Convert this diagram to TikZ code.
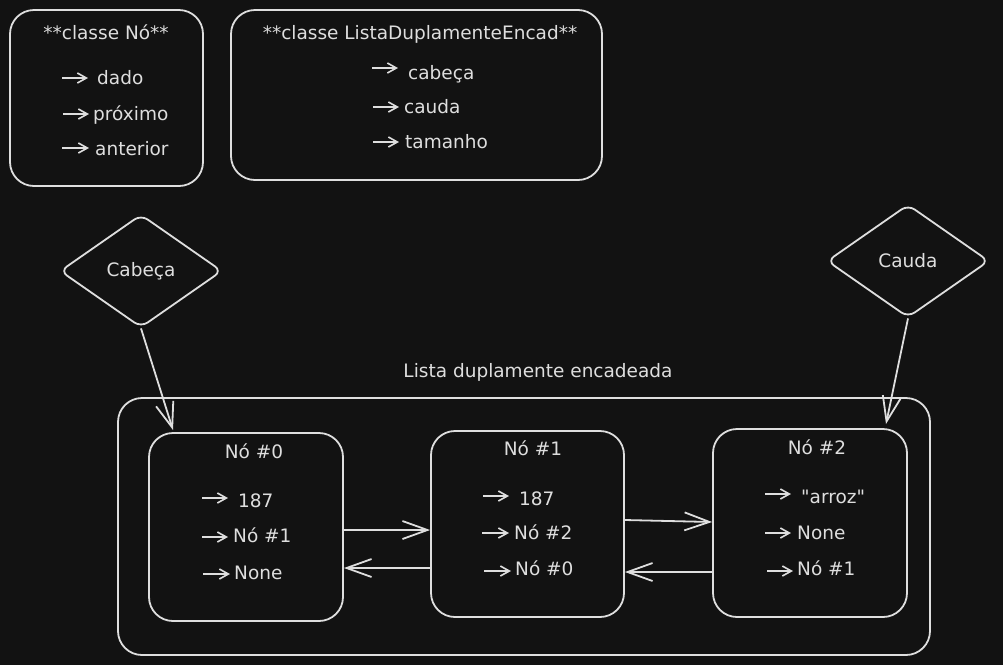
\documentclass[tikz,border=0pt]{standalone}
\usepackage{fontspec}
\setmainfont{DejaVu Sans}[Ligatures=TeXOff]
\usetikzlibrary{arrows.meta,shapes.geometric}
\definecolor{bg}{HTML}{121212}
\definecolor{fg}{HTML}{DEDEDE}
\newcommand\fieldrow[7]{%
  \coordinate (#1s) at (#2,#4);
  \coordinate (#1e) at (#3,#4);
  \node[txt, anchor=west] (#1) at (#5,#6+5) {#7};
  \draw[sarr] (#1s) -- (#1e);
}
\begin{document}
\begin{tikzpicture}[x=1pt,y=-1pt,
  box/.style={draw=fg, line width=1.8pt, rounded corners=24pt, inner sep=0pt},
  txt/.style={text=fg, font=\fontsize{18.5}{22}\selectfont, inner sep=0pt, text height=0.75em, text depth=0.2em},
  conn/.style={draw=fg, line width=1.8pt, -{Straight Barb[length=25pt,width=18pt,line width=1.8pt]}},
  sarr/.style={draw=fg, line width=1.6pt, -{Straight Barb[length=9pt,width=10pt]}},
  dia/.style={diamond, draw=fg, line width=1.8pt, rounded corners=8pt, aspect=1.43,
    minimum width=162pt, minimum height=113pt, inner sep=0pt, text=fg, font=\fontsize{18.5}{22}\selectfont}]
\fill[bg] (0,0) rectangle (1003,665);
\useasboundingbox (0,0) rectangle (1003,665);

% class boxes
\node[box, minimum width=193pt, minimum height=176pt] (cno) at (106.5,98) {};
\node[box, minimum width=371pt, minimum height=170pt] (clista) at (416.5,95) {};
\node[txt] (tno) at (106,37) {**classe Nó**};
\node[txt] (tlista) at (420,37) {**classe ListaDuplamenteEncad**};
\fieldrow{f1}{62}{88}{78}{97}{77}{dado}
\fieldrow{f2}{63}{89}{114}{93}{113}{próximo}
\fieldrow{f3}{62}{89}{148}{95}{148}{anterior}
\fieldrow{g1}{372}{398}{68}{408}{72}{cabeça}
\fieldrow{g2}{373}{399}{107}{404}{106}{cauda}
\fieldrow{g3}{373}{399}{142}{405}{141}{tamanho}

% diamonds
\node[dia] (cab) at (141,271) {Cabeça};
\node[dia] (cau) at (908,261) {Cauda};

% list
\node[txt] (ltitle) at (538,375) {Lista duplamente encadeada};
\node[box, minimum width=812pt, minimum height=257pt] (outer) at (524,526.5) {};
\node[box, minimum width=194pt, minimum height=188pt] (n0) at (246,527) {};
\node[box, minimum width=193pt, minimum height=186pt] (n1) at (527.5,524) {};
\node[box, minimum width=194pt, minimum height=188pt] (n2) at (810,523) {};
\node[txt] (t0) at (254,456) {Nó \#0};
\node[txt] (t1) at (533,453) {Nó \#1};
\node[txt] (t2) at (817,452) {Nó \#2};

\fieldrow{a1}{202}{228}{498}{238}{500}{187}
\fieldrow{a2}{202}{228}{537}{233}{535}{Nó \#1}
\fieldrow{a3}{203}{230}{574}{234}{572}{None}
\fieldrow{b1}{483}{509}{496}{519}{498}{187}
\fieldrow{b2}{482}{509}{533}{514}{532}{Nó \#2}
\fieldrow{b3}{484}{511}{571}{515}{568}{Nó \#0}
\fieldrow{c1}{765}{791}{494}{801}{496}{"arroz"}
\fieldrow{c2}{765}{791}{533}{797}{532}{None}
\fieldrow{c3}{767}{793}{571}{797}{568}{Nó \#1}

% connectors
\draw[conn] (n0.east |- 0,530) -- (n1.west |- 0,530);
\draw[conn] (n1.west |- 0,568) -- (n0.east |- 0,568);
\draw[conn] (n1.east |- 0,520) -- (n2.west |- 0,522);
\draw[conn] (n2.west |- 0,572) -- (n1.east |- 0,572);
\coordinate (cabtip) at (173,430);
\coordinate (cautip) at (886,424);
\draw[conn] (cab.south) -- (cabtip);
\draw[conn] (cau.south) -- (cautip);
\end{tikzpicture}
\end{document}
